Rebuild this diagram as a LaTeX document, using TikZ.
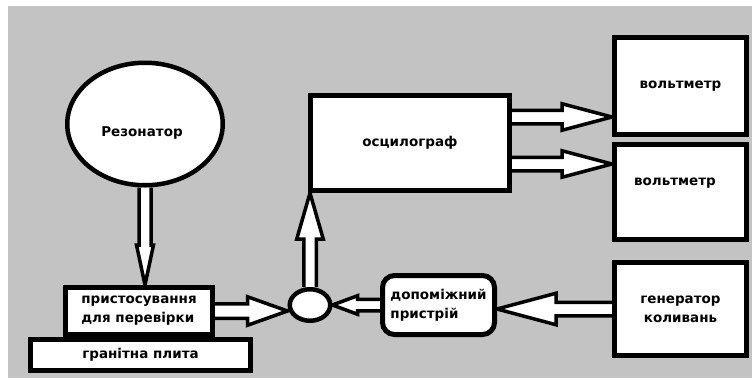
\documentclass[tikz,border=0pt]{standalone}
\usepackage{fontspec}
\setmainfont{DejaVu Sans}
\usetikzlibrary{calc,shapes.geometric,backgrounds}
\definecolor{bggray}{RGB}{195,195,195}

\begin{document}
\begin{tikzpicture}[x=1pt, y=-1pt, font=\bfseries\fontsize{13.5}{19}\selectfont,
  box/.style 2 args={draw, line width=5pt, fill=white, inner sep=0pt,
    minimum width=#1-5, minimum height=#2-5},
  hollow/.style n args={3}{draw, line width=3.5pt, fill=white, line join=miter,
    to path={($(\tikztostart)!#1!90:(\tikztotarget)$)
      -- ($(\tikztotarget)!#3!(\tikztostart)!#1!-90:(\tikztostart)$)
      -- ($(\tikztotarget)!#3!(\tikztostart)!#2!-90:(\tikztostart)$)
      -- (\tikztotarget)
      -- ($(\tikztotarget)!#3!(\tikztostart)!#2!90:(\tikztostart)$)
      -- ($(\tikztotarget)!#3!(\tikztostart)!#1!90:(\tikztostart)$)
      -- ($(\tikztostart)!#1!-90:(\tikztotarget)$)}}]
  \useasboundingbox (0,0) rectangle (752,378);

  % blocks
  \node[ellipse, draw, line width=4.5pt, fill=white, inner sep=0pt,
    minimum width=155.5, minimum height=122.5] (res) at (145,124) {};
  \node (reslab) at (142,133) {Резонатор};
  \node[box={225}{36}] (granite) at (140.5,355) {гранітна плита};
  \node[box={152}{52}, align=left] (prist) at (139,311) {пристосування\\для перевірки};
  \node[ellipse, draw, line width=4.5pt, fill=white, inner sep=0pt,
    minimum width=40.5, minimum height=31.5] (sum) at (310,305) {};
  \node[box={204}{100}] (osc) at (410,143) {осцилограф};
  \node[box={117}{64}, rounded corners=12pt, align=left] (aux) at (438.5,305) {допоміжний\\пристрій};
  \node[box={137}{102}] (vm1) at (680.5,86) {вольтметр};
  \node[box={137}{100}] (vm2) at (680.5,192) {};
  \node (vm2lab) at (675,183) {вольтметр};
  \node[box={137}{98}, align=center] (gen) at (680.5,309) {генератор\\коливань};

  \coordinate (o1) at ($(osc.east)+(0,-26)$);
  \coordinate (o2) at ($(osc.east)+(0,21)$);

  % connectors
  \begin{scope}[on background layer]
    \fill[bggray] (8,6) rectangle (752,378);
    \draw[hollow={6pt}{8.5pt}{40pt}] (res.south) to (res.south |- prist.north);
    \draw[hollow={7.25pt}{14.25pt}{40pt}] (prist.east) to (sum.west |- prist.east);
    \draw[hollow={6.25pt}{13.25pt}{46pt}] (sum.north) to (sum.north |- osc.south);
    \draw[hollow={5.75pt}{9.25pt}{25pt}] (aux.west) to (sum.east);
    \draw[hollow={6.75pt}{15.75pt}{59pt}] (gen.west) to (aux.east |- gen.west);
    \draw[hollow={6.75pt}{13.25pt}{50pt}] (o1) to (o1 -| vm1.west);
    \draw[hollow={6.75pt}{13.25pt}{50pt}] (o2) to (o2 -| vm2.west);
  \end{scope}
\end{tikzpicture}
\end{document}
